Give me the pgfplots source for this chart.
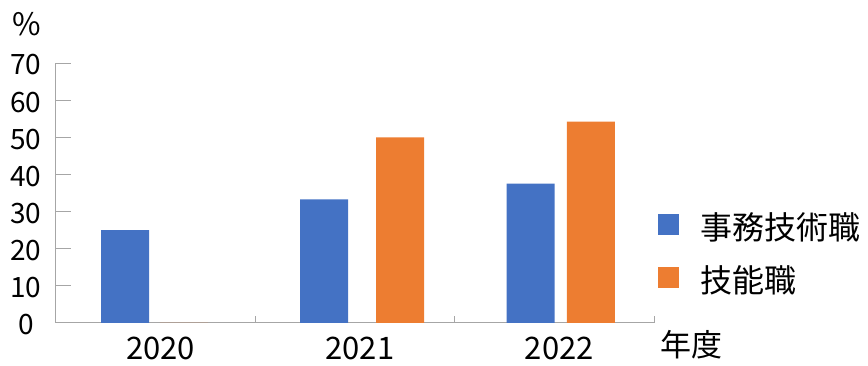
\documentclass[border=0pt]{standalone}
\usepackage{fontspec}
\setmainfont{Noto Sans CJK JP}
\usepackage{pgfplots}
\pgfplotsset{compat=1.18}
\definecolor{cblue}{HTML}{4472C4}
\definecolor{corange}{HTML}{ED7D31}
\definecolor{axgray}{HTML}{A6A6A6}
\begin{document}
\begin{tikzpicture}
\useasboundingbox (-55.7pt,-43pt) rectangle (812.3pt,323pt);
\begin{axis}[
  name=ax,
  at={(0pt,0pt)}, anchor=south west,
  scale only axis, width=598.3pt, height=260pt,
  xmin=0, xmax=3, ymin=0, ymax=70,
  axis lines=left,
  axis line style={draw=axgray, line width=1pt, -},
  tick align=inside,
  ytick={0,10,...,70},
  xtick={0,1,2,3},
  xticklabels={2020,2021,2022},
  x tick label as interval=true,
  ytick style={draw=axgray, line width=1pt, /pgfplots/major tick length=15pt},
  xtick style={draw=axgray, line width=1pt, /pgfplots/major tick length=7pt},
  /pgf/number format/assume math mode=true,
  yticklabel style={font=\fontsize{28}{28}\selectfont, anchor=center, xshift=-29.7pt, yshift=-2pt},
  xticklabel style={font=\fontsize{31}{31}\selectfont, anchor=center, yshift=-25.5pt, xshift=5pt},
  legend style={at={(1,0.269)}, anchor=west, xshift=4pt, draw=none, fill=none,
    inner sep=0pt, row sep=25pt, column sep=21pt,
    font=\fontsize{32}{32}\selectfont, nodes={inner sep=0pt}},
  legend cell align=left,
]
\addplot[ybar, bar width=0.2407, bar shift=0pt, fill=cblue, draw=none,
  legend image code/.code={\fill[cblue] (0pt,-8.7pt) rectangle (21pt,12.3pt);}]
  coordinates {(0.3475,25.0) (1.3455,33.3) (2.381,37.5)};
\addlegendentry{事務技術職}
\addplot[ybar, bar width=0.2407, bar shift=0pt, fill=corange, draw=none,
  legend image code/.code={\fill[corange] (0pt,-8.7pt) rectangle (21pt,12.3pt);}]
  coordinates {(0.643,0) (1.7267,50.0) (2.683,54.2)};
\addlegendentry{技能職}
\end{axis}
\node[font=\fontsize{31}{31}\selectfont, inner sep=0pt] at ([xshift=-28.7pt,yshift=39pt]ax.north west) {\%};
\node[font=\fontsize{31}{31}\selectfont, inner sep=0pt] at ([xshift=37.5pt,yshift=-22pt]ax.south east) {年度};
\end{tikzpicture}
\end{document}
